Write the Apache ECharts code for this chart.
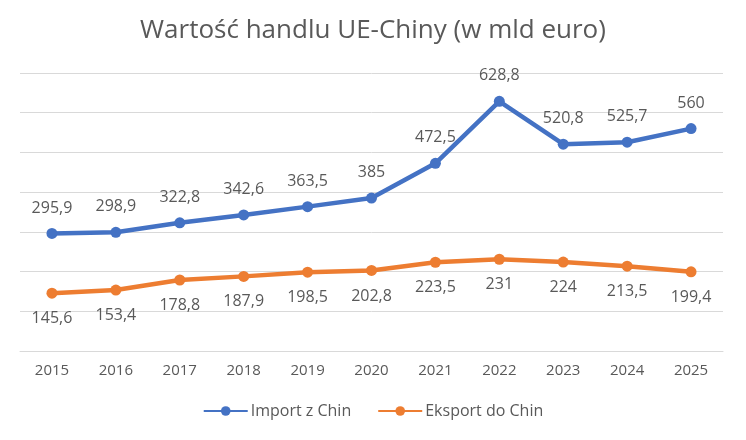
<!DOCTYPE html>
<html>
<head>
<meta charset="utf-8">
<script src="https://cdn.jsdelivr.net/npm/echarts@6/dist/echarts.min.js"></script>
<style>
  html, body { margin: 0; padding: 0; background: #fff; }
  #chart { width: 746px; height: 440px; }
</style>
</head>
<body>
<div id="chart"></div>
<script>
var years = ['2015', '2016', '2017', '2018', '2019', '2020', '2021', '2022', '2023', '2024', '2025'];
var importZChin = [295.9, 298.9, 322.8, 342.6, 363.5, 385, 472.5, 628.8, 520.8, 525.7, 560];
var eksportDoChin = [145.6, 153.4, 178.8, 187.9, 198.5, 202.8, 223.5, 231, 224, 213.5, 199.4];

var textColor = '#595959';
var font = 'Open Sans';

function fmt(p) {
    return String(p.value).replace('.', ',');
}

var myChart = echarts.init(document.getElementById('chart'));

var option = {
    animation: false,
    title: {
        text: 'Wartość handlu UE-Chiny (w mld euro)',
        left: 'center',
        top: 13,
        textStyle: {
            color: textColor,
            fontFamily: font,
            fontWeight: 'normal',
            fontSize: 26
        }
    },
    legend: {
        bottom: 16,
        left: 'center',
        itemWidth: 44,
        itemHeight: 12,
        itemGap: 26,
        textStyle: {
            color: textColor,
            fontFamily: font,
            fontSize: 16,
            padding: [0, 0, 0, -2]
        },
        data: ['Import z Chin', 'Eksport do Chin']
    },
    grid: {
        left: 20,
        right: 23,
        top: 73,
        bottom: 89,
        containLabel: false
    },
    xAxis: {
        type: 'category',
        data: years,
        boundaryGap: true,
        axisLine: { lineStyle: { color: '#d9d9d9', width: 1 } },
        axisTick: { show: false },
        axisLabel: {
            color: textColor,
            fontFamily: font,
            fontSize: 15,
            margin: 12
        }
    },
    yAxis: {
        type: 'value',
        min: 0,
        max: 700,
        interval: 100,
        axisLabel: { show: false },
        axisLine: { show: false },
        axisTick: { show: false },
        splitLine: { lineStyle: { color: '#d9d9d9', width: 1 } }
    },
    series: [{
            name: 'Import z Chin',
            type: 'line',
            data: importZChin,
            symbol: 'circle',
            symbolSize: 11,
            color: '#4472C4',
            lineStyle: { width: 4.5 },
            label: {
                show: true,
                position: 'top',
                distance: 12,
                color: textColor,
                fontFamily: font,
                fontSize: 16,
                formatter: fmt
            }
        },
        {
            name: 'Eksport do Chin',
            type: 'line',
            data: eksportDoChin,
            symbol: 'circle',
            symbolSize: 11,
            color: '#ED7D31',
            lineStyle: { width: 4.5 },
            label: {
                show: true,
                position: 'bottom',
                distance: 12,
                color: textColor,
                fontFamily: font,
                fontSize: 16,
                formatter: fmt
            }
        }
    ]
};

myChart.setOption(option);
</script>
</body>
</html>
